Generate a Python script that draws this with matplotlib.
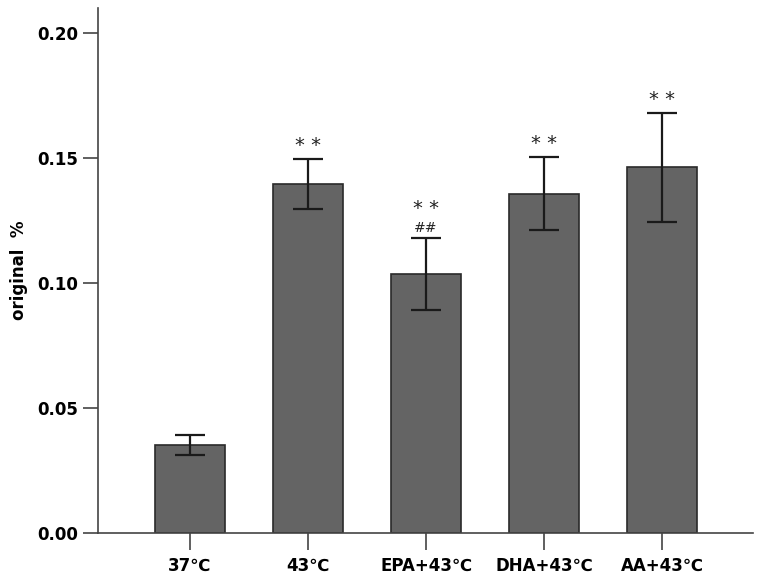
import numpy as np
import matplotlib.pyplot as plt

plt.rcParams['font.family'] = ['DejaVu Sans']

# Data
groups = ['37℃', '43℃', 'EPA+43℃', 'DHA+43℃', 'AA+43℃']
means = [0.0352, 0.1396, 0.1036, 0.1356, 0.1464]
err_hi = [0.0040, 0.0100, 0.0144, 0.0148, 0.0216]
err_lo = [0.0040, 0.0100, 0.0144, 0.0144, 0.0220]
stars = ['', '* *', '* *', '* *', '* *']
hashes = ['', '', '##', '', '']

fig = plt.figure(figsize=(7.61, 5.79), dpi=100)
ax = fig.add_axes([98 / 761, 46 / 579, 655 / 761, 525 / 579])

x = np.arange(len(groups))
ax.bar(x, means, width=0.593, color='#646464', edgecolor='#2a2a2a', linewidth=1.2, zorder=2)
ax.errorbar(x, means, yerr=[err_lo, err_hi], fmt='none', ecolor='#1a1a1a',
            elinewidth=1.6, capsize=10.5, capthick=1.6, zorder=3)

# significance marks above the error bars
for xi, m, hi, st, hs in zip(x, means, err_hi, stars, hashes):
    top = m + hi
    off = 0
    if hs:
        ax.annotate(hs, (xi, top), xytext=(0, 7.5), textcoords='offset points',
                    ha='center', va='center', fontsize=10, color='#222222')
        off = 12
    if st:
        ax.annotate(st, (xi, top), xytext=(0, 9.5 + off), textcoords='offset points',
                    ha='center', va='center', fontsize=14, color='#222222')

ax.set_xlim(-0.78, 4.77)
ax.set_ylim(0, 0.21)
ax.set_yticks([0.00, 0.05, 0.10, 0.15, 0.20])
ax.set_yticklabels(['0.00', '0.05', '0.10', '0.15', '0.20'])
ax.set_xticks(x)
ax.set_xticklabels(groups)

for side in ['top', 'right']:
    ax.spines[side].set_visible(False)
for side in ['left', 'bottom']:
    ax.spines[side].set_color('#444444')
    ax.spines[side].set_linewidth(1.2)

ax.tick_params(axis='y', direction='out', length=11, width=1.2, color='#444444',
               labelsize=12, pad=3)
ax.tick_params(axis='x', direction='out', length=12, width=1.2, color='#444444',
               labelsize=12, pad=5)
for lab in ax.get_xticklabels() + ax.get_yticklabels():
    lab.set_fontweight('bold')

ax.set_ylabel('original  %', fontsize=12, fontweight='bold', labelpad=7)

fig.savefig('out.png', dpi=100)
